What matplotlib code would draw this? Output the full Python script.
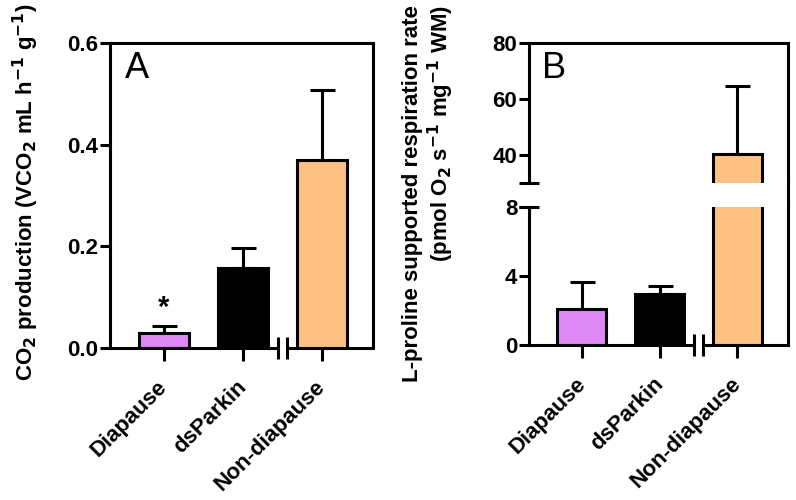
import matplotlib.pyplot as plt
from matplotlib.lines import Line2D
from matplotlib.transforms import ScaledTranslation

plt.rcParams['font.family'] = ['Liberation Sans', 'DejaVu Sans']
plt.rcParams['font.weight'] = 'bold'
plt.rcParams['axes.labelweight'] = 'bold'
plt.rcParams['mathtext.default'] = 'bf'

# data
groups = ["Diapause", "dsParkin", "Non-diapause"]
colors = ["#DD88F5", "#000000", "#FFC182"]
co2_mean = [0.030, 0.157, 0.369]
co2_err = [0.013, 0.040, 0.139]
resp_mean = [2.09, 2.96, 40.2]
resp_err = [1.56, 0.46, 24.6]

x = list(range(len(groups)))
LW = 2.2
XL = (-0.68, 2.65)
FS = 16


def style_axis(ax):
    for s in ax.spines.values():
        s.set_linewidth(LW)
    ax.tick_params(axis='y', width=LW, length=7, labelsize=FS, pad=1.5)
    ax.tick_params(axis='x', width=LW, length=9.5, labelsize=FS, pad=5)
    ax.set_xlim(*XL)


def x_break(ax, y0):
    # bottom axis line with a break between bar 2 and 3
    ax.spines['bottom'].set_visible(False)
    b = 1.5
    g = 0.057
    ax.plot([XL[0], b - g], [y0, y0], color='k', lw=LW, clip_on=False, solid_capstyle='butt')
    ax.plot([b + g, XL[1]], [y0, y0], color='k', lw=LW, clip_on=False, solid_capstyle='butt')
    ax.plot([b - g, b + g], [y0, y0], ls='none', marker='|', ms=16, mew=LW, color='k', clip_on=False)


def xlabels(ax):
    ax.set_xticks(x)
    ax.set_xticklabels(groups, rotation=45, ha='right', rotation_mode='anchor', fontweight='bold')
    shift = ScaledTranslation(-5 / 72, -6 / 72, fig.dpi_scale_trans)
    for lab in ax.get_xticklabels():
        lab.set_transform(lab.get_transform() + shift)


fig = plt.figure(figsize=(7.96, 5.0), dpi=100)

# ---- panel A
axA = fig.add_axes([0.1382, 0.304, 0.3304, 0.61])
axA.bar(x, co2_mean, width=0.63, color=colors, edgecolor='k', linewidth=LW, zorder=2)
axA.errorbar(x, co2_mean, yerr=[[0] * 3, co2_err], fmt='none', ecolor='k',
             elinewidth=LW, capsize=9, capthick=LW, zorder=1)
axA.set_ylim(0, 0.6)
axA.set_yticks([0.0, 0.2, 0.4, 0.6])
axA.set_yticklabels(["0.0", "0.2", "0.4", "0.6"])
style_axis(axA)
xlabels(axA)
x_break(axA, 0)
axA.text(0, co2_mean[0] + co2_err[0] + 0.008, "*", ha='center', va='bottom', fontsize=21)
axA.text(0.055, 0.975, "A", transform=axA.transAxes, fontsize=26, fontweight='normal', va='top')
fig.text(0.033, 0.616, "CO$_2$ production (VCO$_2$ mL h$^{-1}$ g$^{-1}$)",
         rotation=90, ha='center', va='center', fontsize=FS)

# ---- panel B (broken y axis)
axU = fig.add_axes([0.6646, 0.634, 0.3253, 0.28])
axL = fig.add_axes([0.6646, 0.31, 0.3253, 0.276])
for ax in (axU, axL):
    ax.bar(x, resp_mean, width=0.63, color=colors, edgecolor='k', linewidth=LW, zorder=2)
    style_axis(ax)

axU.errorbar(x[2:], resp_mean[2:], yerr=[[0], resp_err[2:]], fmt='none', ecolor='k',
             elinewidth=LW, capsize=9, capthick=LW, zorder=1)
axL.errorbar(x[:2], resp_mean[:2], yerr=[[0, 0], resp_err[:2]], fmt='none', ecolor='k',
             elinewidth=LW, capsize=9, capthick=LW, zorder=1)

axU.set_ylim(30, 80)
axU.set_yticks([40, 60, 80])
axU.spines['bottom'].set_visible(False)
axU.tick_params(axis='x', bottom=False, labelbottom=False)
axU.plot([XL[0]], [30], marker='_', ms=14, mew=LW, color='k', clip_on=False)
axU.text(0.05, 0.94, "B", transform=axU.transAxes, fontsize=26, fontweight='normal', va='top')

axL.set_ylim(0, 8)
axL.set_yticks([0, 4, 8])
axL.spines['top'].set_visible(False)
axL.plot([XL[0]], [8], marker='_', ms=14, mew=LW, color='k', clip_on=False)
xlabels(axL)
x_break(axL, 0)

# right border continues across the gap
xr = 0.6646 + 0.3253
fig.add_artist(Line2D([xr, xr], [0.31 + 0.276, 0.634], color='k', lw=LW))

fig.text(0.539, 0.99, "L-proline supported respiration rate\n(pmol O$_2$ s$^{-1}$ mg$^{-1}$ WM)",
         rotation=90, ha='center', va='top', multialignment='right', fontsize=FS, linespacing=1.1)

fig.savefig("out.png", dpi=100)
